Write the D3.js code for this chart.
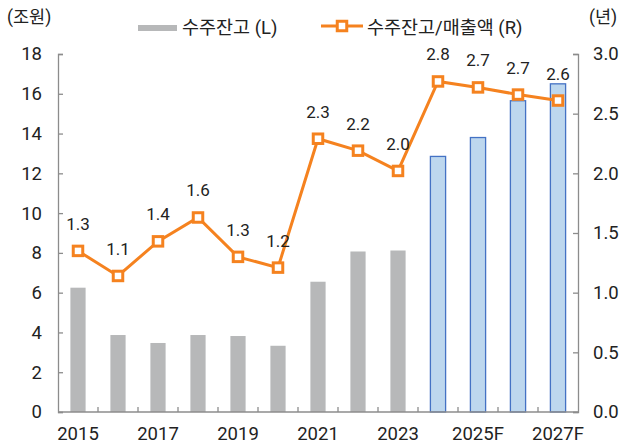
<!DOCTYPE html>
<html>
<head>
<meta charset="utf-8">
<script src="https://cdn.jsdelivr.net/npm/d3@7"></script>
<style>
  body { margin: 0; background: #fff; }
  text { font-family: Roboto, "Noto Sans CJK KR", sans-serif; fill: #222; }
</style>
</head>
<body>
<div id="chart"></div>
<script>
// data
var years = ["2015","2016","2017","2018","2019","2020","2021","2022","2023","2024F","2025F","2026F","2027F"];
var tickYears = ["2015","2017","2019","2021","2023","2025F","2027F"];
var backlog = [6.25, 3.87, 3.47, 3.87, 3.82, 3.33, 6.55, 8.07, 8.12, 12.85, 13.8, 15.65, 16.5];
var ratio = [1.35, 1.14, 1.43, 1.63, 1.30, 1.21, 2.29, 2.19, 2.02, 2.77, 2.72, 2.66, 2.61];
var ratioLabels = ["1.3","1.1","1.4","1.6","1.3","1.2","2.3","2.2","2.0","2.8","2.7","2.7","2.6"];
var nActual = 9;

var clrGray = "#b7b8b9";
var clrBlue = "#bdd7ee";
var clrBlueLine = "#4472c4";
var clrOrange = "#f5821f";
var clrAxis = "#8c8c8c";

var W = 622, H = 448;
var m = { left: 58, right: 44, top: 54, bottom: 36 };

var svg = d3.select("#chart").append("svg")
  .attr("width", W).attr("height", H);

var x = d3.scaleBand().domain(years)
  .range([m.left, W - m.right]).paddingInner(0.62).paddingOuter(0.31);
var yL = d3.scaleLinear().domain([0, 18]).range([H - m.bottom, m.top]);
var yR = d3.scaleLinear().domain([0, 3]).range([H - m.bottom, m.top]);

// bars
svg.selectAll("rect.bar")
  .data(backlog)
  .enter().append("rect")
  .attr("class", "bar")
  .attr("x", function (d, i) { return x(years[i]); })
  .attr("y", function (d) { return yL(d); })
  .attr("width", x.bandwidth())
  .attr("height", function (d) { return yL(0) - yL(d); })
  .style("fill", function (d, i) { return i < nActual ? clrGray : clrBlue; })
  .style("stroke", function (d, i) { return i < nActual ? "none" : clrBlueLine; })
  .style("stroke-width", 1.3);

// axes
var axL = svg.append("g")
  .attr("transform", "translate(" + m.left + ",0)")
  .call(d3.axisLeft(yL).tickValues(d3.range(0, 19, 2)).tickSize(-5).tickPadding(16));
var axR = svg.append("g")
  .attr("transform", "translate(" + (W - m.right) + ",0)")
  .call(d3.axisRight(yR).tickValues(d3.range(0, 3.01, 0.5)).tickFormat(d3.format(".1f")).tickSize(-5).tickPadding(15));

// x axis: ticks between categories
var step = x.step();
var xAxisY = H - m.bottom;
var gx = svg.append("g");
gx.append("line")
  .attr("x1", m.left).attr("x2", W - m.right)
  .attr("y1", xAxisY).attr("y2", xAxisY);
gx.selectAll("line.tk")
  .data(d3.range(1, years.length))
  .enter().append("line")
  .attr("class", "tk")
  .attr("x1", function (i) { return m.left + i * step; })
  .attr("x2", function (i) { return m.left + i * step; })
  .attr("y1", xAxisY).attr("y2", xAxisY - 5);
gx.selectAll("line").style("stroke", clrAxis).style("stroke-width", 1.3);
gx.selectAll("text")
  .data(tickYears)
  .enter().append("text")
  .attr("x", function (d) { return x(d) + x.bandwidth() / 2; })
  .attr("y", xAxisY + 28)
  .style("text-anchor", "middle")
  .style("font-size", "18.5px")
  .text(function (d) { return d; });

[axL, axR].forEach(function (g) {
  g.select(".domain").style("stroke", clrAxis).style("stroke-width", 1.3);
  g.selectAll(".tick line").style("stroke", clrAxis).style("stroke-width", 1.3);
  g.selectAll(".tick text").style("font-size", "18.5px").style("fill", "#222")
    .style("font-family", "Roboto, sans-serif");
});

// line
var cx = function (i) { return x(years[i]) + x.bandwidth() / 2; };
var line = d3.line()
  .x(function (d, i) { return cx(i); })
  .y(function (d) { return yR(d); });
svg.append("path")
  .datum(ratio)
  .attr("d", line)
  .style("fill", "none")
  .style("stroke", clrOrange)
  .style("stroke-width", 3);

svg.selectAll("rect.mk")
  .data(ratio)
  .enter().append("rect")
  .attr("class", "mk")
  .attr("x", function (d, i) { return cx(i) - 4.75; })
  .attr("y", function (d) { return yR(d) - 4.75; })
  .attr("width", 9.5).attr("height", 9.5)
  .style("fill", "#fff")
  .style("stroke", clrOrange)
  .style("stroke-width", 3);

svg.selectAll("text.lbl")
  .data(ratio)
  .enter().append("text")
  .attr("class", "lbl")
  .attr("x", function (d, i) { return cx(i); })
  .attr("y", function (d) { return yR(d) - 21; })
  .style("text-anchor", "middle")
  .style("font-size", "17px")
  .text(function (d, i) { return ratioLabels[i]; });

// unit labels
svg.append("text").attr("x", 7).attr("y", 23)
  .style("font-size", "17.5px").text("(조원)");
svg.append("text").attr("x", 589).attr("y", 23)
  .style("font-size", "17.5px").text("(년)");

// legend
svg.append("rect").attr("x", 138).attr("y", 25).attr("width", 39).attr("height", 6)
  .style("fill", clrGray);
svg.append("text").attr("x", 182).attr("y", 34)
  .style("font-size", "18.5px").text("수주잔고 (L)");
svg.append("line").attr("x1", 321).attr("x2", 363).attr("y1", 26).attr("y2", 26)
  .style("stroke", clrOrange).style("stroke-width", 3);
svg.append("rect").attr("x", 337.25).attr("y", 21.25).attr("width", 9.5).attr("height", 9.5)
  .style("fill", "#fff").style("stroke", clrOrange).style("stroke-width", 3);
svg.append("text").attr("x", 367).attr("y", 34)
  .style("font-size", "18.5px").text("수주잔고/매출액 (R)");
</script>
</body>
</html>
